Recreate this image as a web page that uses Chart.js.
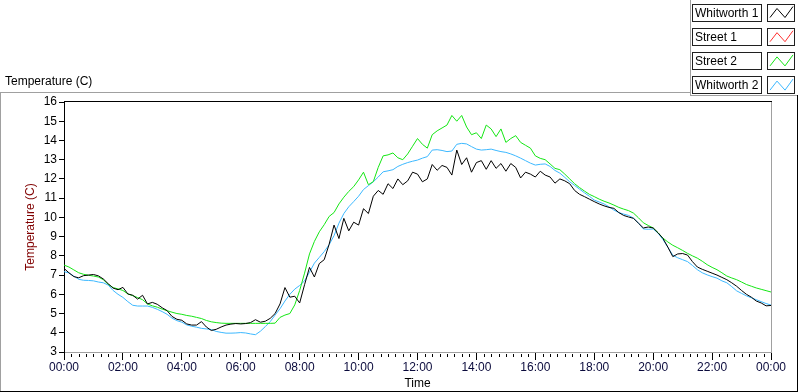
<!DOCTYPE html>
<html>
<head>
<meta charset="utf-8">
<title>Temperature</title>
<script src="https://cdn.jsdelivr.net/npm/chart.js@4.4.1/dist/chart.umd.min.js"></script>
<style>
  html, body { margin: 0; padding: 0; background: #fff; }
  canvas { display: block; }
</style>
</head>
<body>
<canvas id="tempChart" width="800" height="392"></canvas>
<script>
// Minutes since midnight, one reading every 10 minutes
const times = [
  0, 10, 20, 30, 40, 50, 60, 70, 80, 90, 100, 110,
  120, 130, 140, 150, 160, 170, 180, 190, 200, 210, 220, 230,
  240, 250, 260, 270, 280, 290, 300, 310, 320, 330, 340, 350,
  360, 370, 380, 390, 400, 410, 420, 430, 440, 450, 460, 470,
  480, 490, 500, 510, 520, 530, 540, 550, 560, 570, 580, 590,
  600, 610, 620, 630, 640, 650, 660, 670, 680, 690, 700, 710,
  720, 730, 740, 750, 760, 770, 780, 790, 800, 810, 820, 830,
  840, 850, 860, 870, 880, 890, 900, 910, 920, 930, 940, 950,
  960, 970, 980, 990, 1000, 1010, 1020, 1030, 1040, 1050, 1060, 1070,
  1080, 1090, 1100, 1110, 1120, 1130, 1140, 1150, 1160, 1170, 1180, 1190,
  1200, 1210, 1220, 1230, 1240, 1250, 1260, 1270, 1280, 1290, 1300, 1310,
  1320, 1330, 1340, 1350, 1360, 1370, 1380, 1390, 1400, 1410, 1420, 1430,
  1440
];

const whitworth1 = [
  7.35, 7.12, 6.92, 6.86, 6.97, 7.0, 7.03, 6.96, 6.8, 6.55, 6.32, 6.24,
  6.36, 6.02, 5.95, 5.75, 5.95, 5.5, 5.58, 5.48, 5.3, 5.15, 4.85, 4.7,
  4.65, 4.46, 4.4, 4.4, 4.58, 4.3, 4.12, 4.18, 4.3, 4.4, 4.45, 4.48,
  4.46, 4.48, 4.53, 4.68, 4.55, 4.6, 4.75, 5.0, 5.5, 6.35, 5.85, 5.9,
  5.55, 6.5, 7.4, 6.9, 7.6, 7.8, 8.6, 9.6, 8.9, 9.95, 9.3, 9.75,
  9.6, 10.45, 10.2, 11.1, 11.4, 11.2, 11.75, 11.5, 12.0, 11.7, 11.9, 12.35,
  12.25, 11.85, 12.0, 12.75, 12.45, 12.7, 12.6, 12.2, 13.5, 12.75, 13.1, 12.35,
  12.85, 12.95, 12.5, 12.95, 12.55, 12.8, 12.4, 12.8, 12.6, 12.05, 12.35, 12.25,
  12.1, 12.4, 12.2, 12.1, 11.78, 12.0, 11.9, 11.75, 11.4, 11.2, 11.08, 10.95,
  10.82, 10.7, 10.6, 10.52, 10.47, 10.25, 10.1, 10.02, 9.95, 9.7, 9.45, 9.5,
  9.45, 9.2, 8.9, 8.45, 7.96, 8.1, 8.12, 8.04, 7.7, 7.42, 7.3, 7.2,
  7.1, 7.0, 6.88, 6.76, 6.6, 6.42, 6.2, 6.0, 5.85, 5.65, 5.55, 5.4,
  5.42
];

// Street 1 has no readings on this day
const street1 = [];

const street2 = [
  7.52, 7.42, 7.27, 7.12, 7.04, 6.99, 6.95, 6.9, 6.76, 6.52, 6.35, 6.28,
  6.2, 6.02, 5.93, 5.83, 5.72, 5.5, 5.4, 5.33, 5.23, 5.15, 5.07, 5.0,
  4.96, 4.9, 4.86, 4.8, 4.74, 4.64, 4.57, 4.53, 4.5, 4.49, 4.49, 4.49,
  4.49, 4.49, 4.49, 4.49, 4.49, 4.49, 4.49, 4.5, 4.8, 4.92, 5.0, 5.45,
  6.2, 7.1, 8.1, 8.75, 9.25, 9.62, 10.05, 10.25, 10.7, 11.05, 11.35, 11.6,
  11.95, 12.35, 11.7, 11.86, 12.6, 13.2, 13.25, 13.35, 13.1, 13.0, 13.3, 13.7,
  14.1, 13.8, 13.6, 14.3, 14.5, 14.65, 14.8, 15.3, 15.0, 15.3, 14.7, 14.3,
  14.4, 14.1, 14.8, 14.6, 14.2, 14.6, 13.9, 14.1, 14.25, 13.9, 13.75, 13.6,
  13.2, 13.07, 13.0, 12.78, 12.55, 12.48, 12.25, 12.0, 11.75, 11.55, 11.37, 11.2,
  11.08, 10.95, 10.84, 10.75, 10.64, 10.52, 10.43, 10.35, 10.22, 9.98, 9.72, 9.58,
  9.45, 9.2, 8.92, 8.72, 8.55, 8.42, 8.28, 8.13, 8.0, 7.88, 7.72, 7.54,
  7.4, 7.28, 7.12, 6.95, 6.85, 6.76, 6.64, 6.51, 6.42, 6.33, 6.26, 6.19,
  6.12
];

const whitworth2 = [
  7.18, 7.11, 6.95, 6.78, 6.73, 6.72, 6.7, 6.64, 6.6, 6.48, 6.2, 6.0,
  5.84, 5.62, 5.43, 5.39, 5.39, 5.39, 5.32, 5.22, 5.1, 4.96, 4.76, 4.63,
  4.55, 4.41, 4.34, 4.29, 4.23, 4.2, 4.17, 4.07, 4.02, 3.98, 3.98, 3.99,
  4.01, 3.99, 3.94, 3.9, 4.08, 4.32, 4.58, 4.92, 5.25, 5.65, 6.0, 6.27,
  6.46, 6.7, 7.15, 7.62, 7.92, 8.22, 8.58, 9.05, 9.7, 10.2, 10.55, 10.82,
  11.1, 11.45, 11.65, 11.85, 12.1, 12.37, 12.42, 12.48, 12.65, 12.76, 12.85, 12.92,
  12.98, 13.08, 13.16, 13.5, 13.52, 13.48, 13.42, 13.45, 13.8, 13.85, 13.82, 13.68,
  13.55, 13.5, 13.52, 13.55, 13.48, 13.42, 13.38, 13.3, 13.2, 13.08, 12.95, 12.82,
  12.72, 12.76, 12.78, 12.65, 12.44, 12.3, 12.08, 11.85, 11.66, 11.47, 11.28, 11.1,
  10.9, 10.8, 10.7, 10.55, 10.38, 10.25, 10.17, 10.1, 9.96, 9.7, 9.4, 9.38,
  9.4, 9.18, 8.85, 8.44, 8.03, 7.9, 7.8, 7.7, 7.5, 7.28, 7.12, 7.01,
  6.92, 6.84, 6.7, 6.6, 6.4, 6.18, 6.05, 5.92, 5.82, 5.72, 5.62, 5.52,
  5.44
];

const seriesNames = ['Whitworth 1', 'Street 1', 'Street 2', 'Whitworth 2'];
const seriesColors = ['#000000', '#ff3030', '#14e614', '#3cb8ff'];
const xTickLabels = ['00:00', '02:00', '04:00', '06:00', '08:00', '10:00', '12:00',
  '14:00', '16:00', '18:00', '20:00', '22:00', '00:00'];

const FONT = '"Liberation Sans", Arial, sans-serif';

function toPoints(values) {
  return values.map((v, i) => ({ x: times[i], y: v }));
}

// Lineas del panel, bordes del grafico, ticks menores y leyenda estilo LabVIEW
const panelPlugin = {
  id: 'panel',
  afterDraw(chart) {
    const ctx = chart.ctx;
    const a = chart.chartArea;
    const line = (x1, y1, x2, y2, color) => {
      ctx.strokeStyle = color;
      ctx.beginPath();
      ctx.moveTo(x1, y1);
      ctx.lineTo(x2, y2);
      ctx.stroke();
    };
    ctx.save();
    ctx.lineWidth = 1;

    // marco exterior
    line(0, 92.5, 690, 92.5, '#a0a0a0');
    line(690.5, 0, 690.5, 96, '#a0a0a0');
    line(690, 95.5, 797, 95.5, '#a0a0a0');
    line(0.5, 92, 0.5, 392, '#a0a0a0');
    line(797.5, 95, 797.5, 392, '#000');
    line(0, 391.5, 798, 391.5, '#000');

    // borde superior y derecho del area de trazado
    line(a.left, Math.round(a.top) - 0.5, Math.round(a.right) + 1, Math.round(a.top) - 0.5, '#000');
    line(Math.round(a.right) + 0.5, a.top, Math.round(a.right) + 0.5, a.bottom + 1, '#a0a0a0');

    // ticks menores del eje x
    const xs = chart.scales.x;
    xs.ticks.forEach(t => {
      if (t.value % 120 !== 0) {
        const px = Math.round(xs.getPixelForValue(t.value)) + 0.5;
        line(px, a.bottom + 2, px, a.bottom + 5, '#000');
      }
    });

    // etiqueta del grafico
    ctx.fillStyle = '#000';
    ctx.font = '12px ' + FONT;
    ctx.textBaseline = 'middle';
    ctx.textAlign = 'left';
    ctx.fillText('Temperature (C)', 5, 82);

    // leyenda
    chart.data.datasets.forEach((ds, i) => {
      const y = 3.5 + i * 24.2;
      ctx.fillStyle = '#fff';
      ctx.fillRect(693, y, 69, 17);
      ctx.fillRect(768, y, 27, 17);
      ctx.strokeStyle = '#202020';
      ctx.strokeRect(692.5, Math.round(y) + 0.5, 69, 17);
      ctx.strokeRect(767.5, Math.round(y) + 0.5, 27, 17);
      ctx.fillStyle = '#000';
      ctx.fillText(ds.label, 695, Math.round(y) + 9.5);
      ctx.strokeStyle = ds.borderColor;
      ctx.beginPath();
      ctx.moveTo(770, y + 14);
      ctx.lineTo(777, y + 5);
      ctx.lineTo(785, y + 14);
      ctx.lineTo(793, y + 3);
      ctx.stroke();
    });
    ctx.restore();
  }
};

new Chart(document.getElementById('tempChart'), {
  type: 'line',
  data: {
    datasets: [
      { label: seriesNames[0], data: toPoints(whitworth1), borderColor: seriesColors[0] },
      { label: seriesNames[1], data: toPoints(street1), borderColor: seriesColors[1] },
      { label: seriesNames[2], data: toPoints(street2), borderColor: seriesColors[2] },
      { label: seriesNames[3], data: toPoints(whitworth2), borderColor: seriesColors[3] }
    ].map(ds => Object.assign(ds, {
      borderWidth: 1,
      pointRadius: 0,
      tension: 0,
      fill: false
    }))
  },
  options: {
    responsive: false,
    animation: false,
    events: [],
    layout: { padding: { left: 0, right: 29, top: 102, bottom: 0 } },
    plugins: {
      legend: { display: false },
      tooltip: { enabled: false }
    },
    scales: {
      x: {
        type: 'linear',
        min: 0,
        max: 1440,
        afterFit: s => { s.height = 40; },
        ticks: {
          stepSize: 15,
          autoSkip: false,
          maxRotation: 0,
          padding: 0,
          color: '#0a0a3c',
          font: { family: FONT, size: 12 },
          callback: v => (v % 120 === 0 ? xTickLabels[v / 120] : '')
        },
        grid: {
          drawOnChartArea: false,
          tickLength: 8,
          tickColor: ctx => (ctx.tick && ctx.tick.value % 120 === 0 ? '#000' : 'rgba(0,0,0,0)')
        },
        border: { color: '#a0a0a0' },
        title: {
          display: true,
          text: 'Time',
          color: '#000',
          font: { family: FONT, size: 12 },
          padding: { top: 0, bottom: 1 }
        }
      },
      y: {
        min: 3,
        max: 16,
        afterFit: s => { s.width = 64; },
        ticks: {
          stepSize: 1,
          padding: 2,
          color: '#000',
          font: { family: FONT, size: 12 }
        },
        grid: {
          drawOnChartArea: false,
          tickLength: 5,
          tickColor: '#000'
        },
        border: { color: '#000' },
        title: {
          display: true,
          text: 'Temperature (C)',
          color: '#800000',
          font: { family: FONT, size: 12 },
          padding: { top: 23, bottom: 0 }
        }
      }
    }
  },
  plugins: [panelPlugin]
});
</script>
</body>
</html>
